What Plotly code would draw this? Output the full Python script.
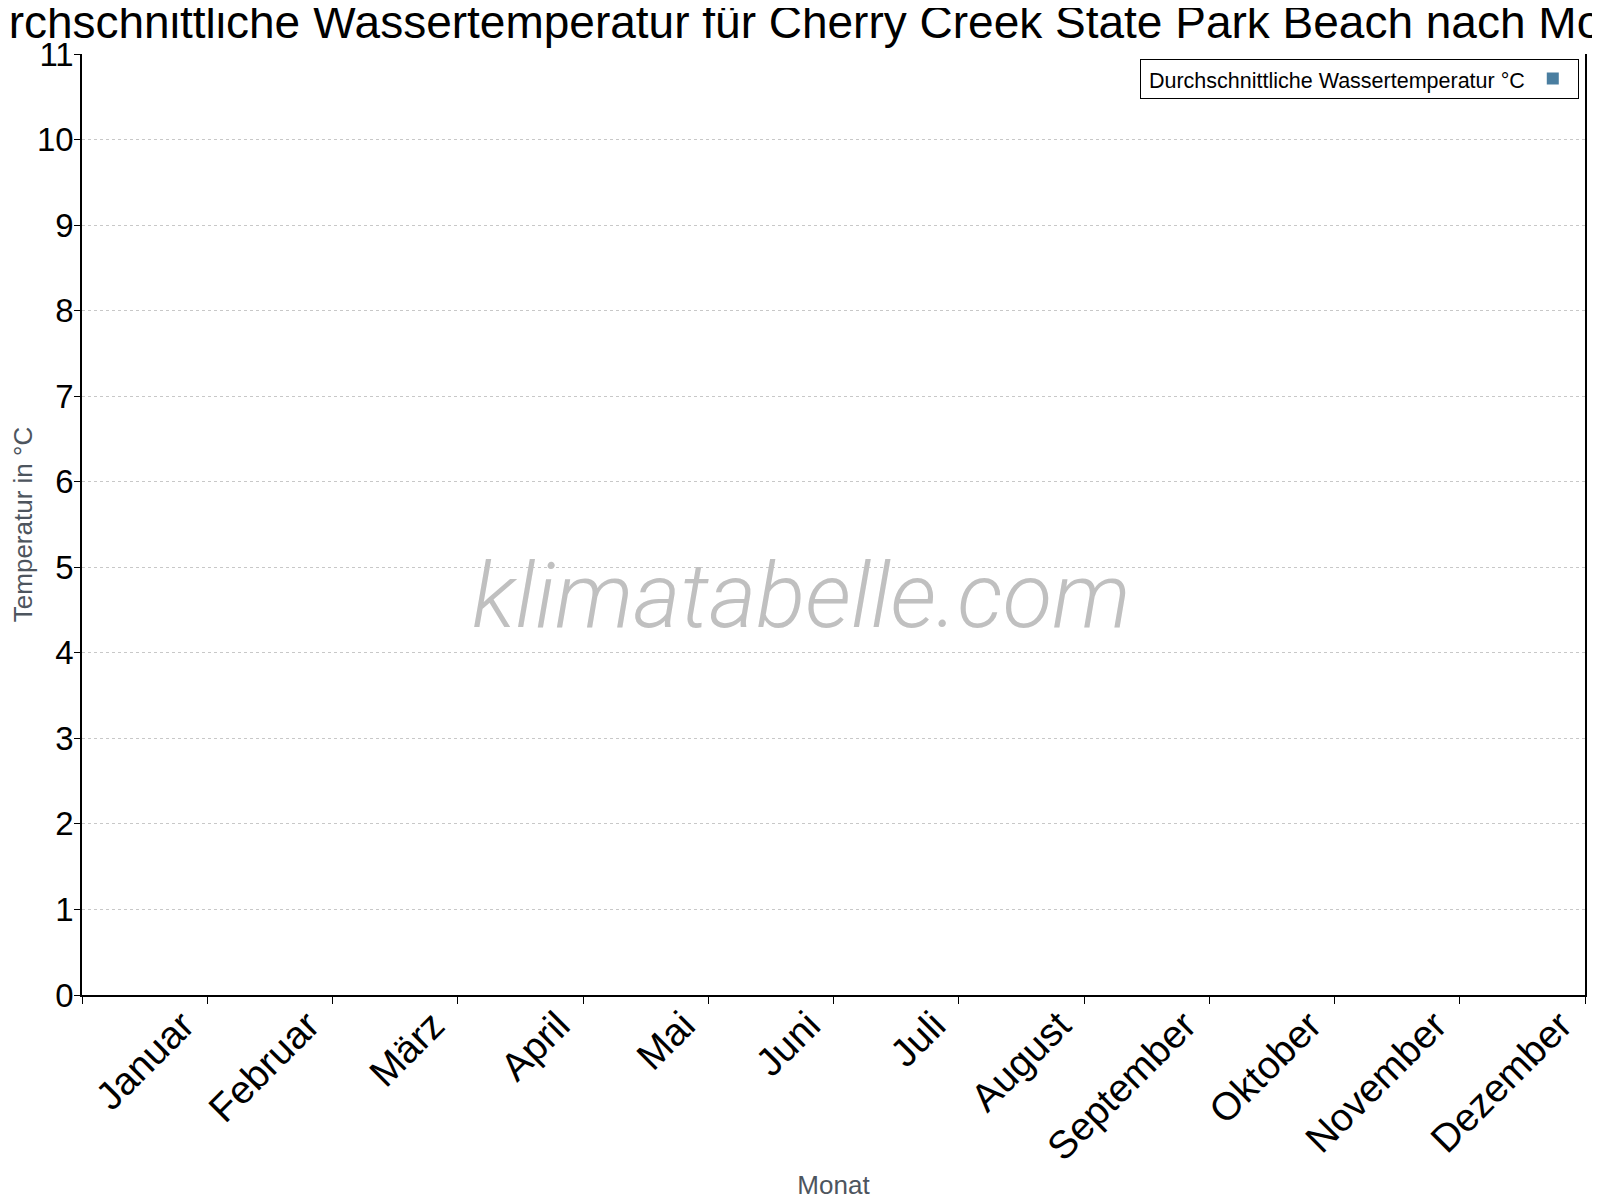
import plotly.graph_objects as go

# Monate und Durchschnittswerte (keine Daten im Original sichtbar -> 0)
monate = ["Januar", "Februar", "März", "April", "Mai", "Juni",
          "Juli", "August", "September", "Oktober", "November", "Dezember"]
wassertemperatur = [0, 0, 0, 0, 0, 0, 0, 0, 0, 0, 0, 0]

titel = "Durchschnittliche Wassertemperatur für Cherry Creek State Park Beach nach Monat"
serien_name = "Durchschnittliche Wassertemperatur °C"

fig = go.Figure()
fig.add_trace(go.Bar(
    x=monate,
    y=wassertemperatur,
    name="",
    marker=dict(color="#4a7ea0", line=dict(color="#1f3a4d", width=0)),
    showlegend=True,
))

# watermark in the middle of the plot
fig.add_annotation(
    text="klimatabelle.com",
    xref="paper", yref="paper", x=0.479, y=0.424,
    showarrow=False,
    font=dict(family="Roboto", size=91, color="#c0c0c0", style="italic", weight=300),
)

fig.update_layout(
    width=1600, height=1200,
    paper_bgcolor="white", plot_bgcolor="white",
    font=dict(family="Liberation Sans, Arial", color="black"),
    margin=dict(l=74, r=23, t=46, b=213),
    title=dict(text=titel, x=0.5, xanchor="center", y=0.9885, yanchor="middle",
               font=dict(size=46, color="black")),
    legend=dict(
        x=0.996, y=0.995, xanchor="right", yanchor="top",
        bgcolor="white", bordercolor="black", borderwidth=1,
        title=dict(text=" " + serien_name, side="left", font=dict(size=21.5)),
        font=dict(size=19), itemwidth=30, valign="middle",
    ),
    bargap=0.2,
)

fig.update_xaxes(
    title=dict(text="Monat", font=dict(size=26, color="#4d555e"), standoff=8),
    tickangle=-45,
    tickfont=dict(size=39),
    tickson="boundaries",
    ticklabelshift=38,
    ticklabelstandoff=-10,
    ticks="outside", ticklen=7, tickcolor="black",
    showline=True, linecolor="black", linewidth=1.5,
    showgrid=False, automargin=False,
)
fig.update_yaxes(
    title=dict(text="Temperatur in °C", font=dict(size=26, color="#4d555e"), standoff=18),
    range=[0, 11], dtick=1,
    tickfont=dict(size=33),
    ticks="outside", ticklen=6, tickcolor="black",
    ticklabelstandoff=-6,
    showline=True, linecolor="black", linewidth=1.5, mirror=True,
    showgrid=True, gridcolor="#c8c8c8", griddash="dot", gridwidth=1,
    zeroline=False, automargin=False,
)

fig.write_html("out.html")
